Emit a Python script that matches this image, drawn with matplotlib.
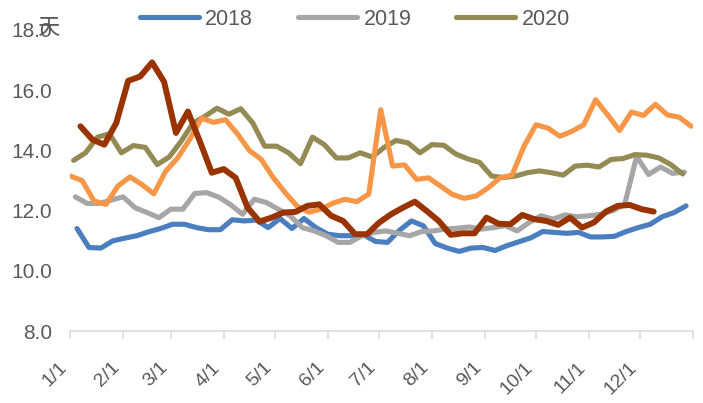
import numpy as np
import matplotlib
matplotlib.use("Agg")
import matplotlib.pyplot as plt

plt.rcParams['font.family'] = ['Liberation Sans', 'Noto Sans CJK SC', 'DejaVu Sans']

# ---- data (weekly values, days) ----
years = ['2018', '2019', '2020', '2021', '2022']
start_day = [4, 3, 2, 0, 6]   # day-of-year of the first weekly observation

v2018 = [11.41, 10.78, 10.76, 11.0, 11.09, 11.17, 11.3, 11.41, 11.55, 11.55,
         11.44, 11.37, 11.37, 11.7, 11.66, 11.69, 11.44, 11.74, 11.41, 11.74,
         11.44, 11.22, 11.17, 11.17, 11.2, 10.98, 10.95, 11.35, 11.66, 11.5,
         10.91, 10.76, 10.65, 10.76, 10.78, 10.68, 10.84, 10.97, 11.1, 11.31,
         11.28, 11.25, 11.28, 11.13, 11.13, 11.15, 11.31, 11.44, 11.55, 11.8,
         11.94, 12.16]
v2019 = [12.46, 12.24, 12.24, 12.35, 12.46, 12.1, 11.94, 11.77, 12.05, 12.05,
         12.57, 12.6, 12.45, 12.2, 11.88, 12.38, 12.27, 12.05, 11.83, 11.44,
         11.33, 11.17, 10.95, 10.95, 11.17, 11.28, 11.33, 11.25, 11.17, 11.31,
         11.33, 11.39, 11.42, 11.46, 11.39, 11.44, 11.5, 11.33, 11.61, 11.83,
         11.72, 11.86, 11.8, 11.83, 11.88, 12.0, 12.21, 13.8, 13.2, 13.45,
         13.24, 13.28]
v2020 = [13.67, 13.92, 14.44, 14.55, 13.92, 14.16, 14.1, 13.53, 13.78, 14.3,
         14.91, 15.13, 15.4, 15.2, 15.38, 14.91, 14.14, 14.14, 13.92, 13.56,
         14.44, 14.19, 13.75, 13.75, 13.92, 13.78, 14.1, 14.33, 14.25, 13.92,
         14.19, 14.17, 13.88, 13.72, 13.6, 13.15, 13.1, 13.15, 13.26, 13.32,
         13.26, 13.18, 13.48, 13.51, 13.45, 13.7, 13.73, 13.86, 13.84, 13.75,
         13.53, 13.22]
v2021 = [13.15, 13.0, 12.32, 12.21, 12.82, 13.12, 12.87, 12.56, 13.31, 13.75,
         14.36, 15.07, 14.93, 15.02, 14.55, 14.0, 13.7, 13.1, 12.6, 12.15,
         11.95, 12.05, 12.25, 12.38, 12.3, 12.55, 15.35, 13.48, 13.52, 13.04,
         13.09, 12.82, 12.54, 12.41, 12.49, 12.76, 13.09, 13.18, 14.14, 14.85,
         14.74, 14.47, 14.63, 14.85, 15.68, 15.18, 14.66, 15.27, 15.16, 15.53,
         15.18, 15.1, 14.8]
v2022 = [14.8, 14.36, 14.19, 14.91, 16.31, 16.45, 16.92, 16.28, 14.58, 15.29,
         14.3, 13.26, 13.38, 13.09, 12.1, 11.64, 11.77, 11.94, 11.96, 12.16,
         12.21, 11.83, 11.66, 11.22, 11.22, 11.6, 11.88, 12.1, 12.3, 11.99,
         11.66, 11.2, 11.25, 11.25, 11.77, 11.57, 11.55, 11.86, 11.72, 11.66,
         11.53, 11.77, 11.44, 11.61, 11.97, 12.16, 12.19, 12.05, 11.97]
series = [v2018, v2019, v2020, v2021, v2022]

month_days = [0, 31, 59, 90, 120, 151, 181, 212, 243, 273, 304, 334, 365]
month_labels = ['1/1', '2/1', '3/1', '4/1', '5/1', '6/1', '7/1', '8/1',
                '9/1', '10/1', '11/1', '12/1', '']
y_ticks = [8.0, 10.0, 12.0, 14.0, 16.0, 18.0]
unit = '天'

colors = ['#4a7ebf', '#a6a6a6', '#948a54', '#f79646', '#993300']
widths = [3.7, 3.7, 3.7, 3.7, 4.3]
text_color = '#595959'

W, H = 703, 403
fig = plt.figure(figsize=(W / 100, H / 100), dpi=100)
ax = fig.add_axes([70.2 / W, 1 - 331.3 / H, (692.9 - 70.2) / W, (331.3 - 29.8) / H])

lines = []
for yr, sd, vals, c, lw in zip(years, start_day, series, colors, widths):
    days = sd + 7 * np.arange(len(vals))
    ln, = ax.plot(days, vals, color=c, lw=lw, label=yr,
                  solid_joinstyle='round', solid_capstyle='round')
    lines.append(ln)

ax.set_xlim(0, 365)
ax.set_ylim(8, 18)
ax.set_xticks(month_days)
ax.set_xticklabels(month_labels, rotation=45, ha='right', va='top')
ax.set_yticks(y_ticks)
ax.set_yticklabels([f'{v:.1f}' for v in y_ticks])

for s in ['left', 'top', 'right']:
    ax.spines[s].set_visible(False)
ax.spines['bottom'].set_color('#d9d9d9')
ax.spines['bottom'].set_linewidth(1.1)

ax.tick_params(axis='x', direction='out', length=6, width=1.1, color='#d9d9d9',
               labelcolor=text_color, labelsize=14, pad=14)
ax.tick_params(axis='y', length=0, labelcolor=text_color, labelsize=15, pad=13)

fig.text(48 / W, 1 - 27 / H, unit, ha='center', va='center', fontsize=16,
         color=text_color, family=['Noto Sans CJK SC', 'DejaVu Sans'])

fig.legend(lines[:3], years[:3], loc='center', bbox_to_anchor=(355 / W, 1 - 19.5 / H),
           ncol=3, frameon=False, fontsize=15.5, labelcolor=text_color,
           handlelength=2.72, handletextpad=0.3, columnspacing=2.1)

fig.savefig('out.png', dpi=100)
